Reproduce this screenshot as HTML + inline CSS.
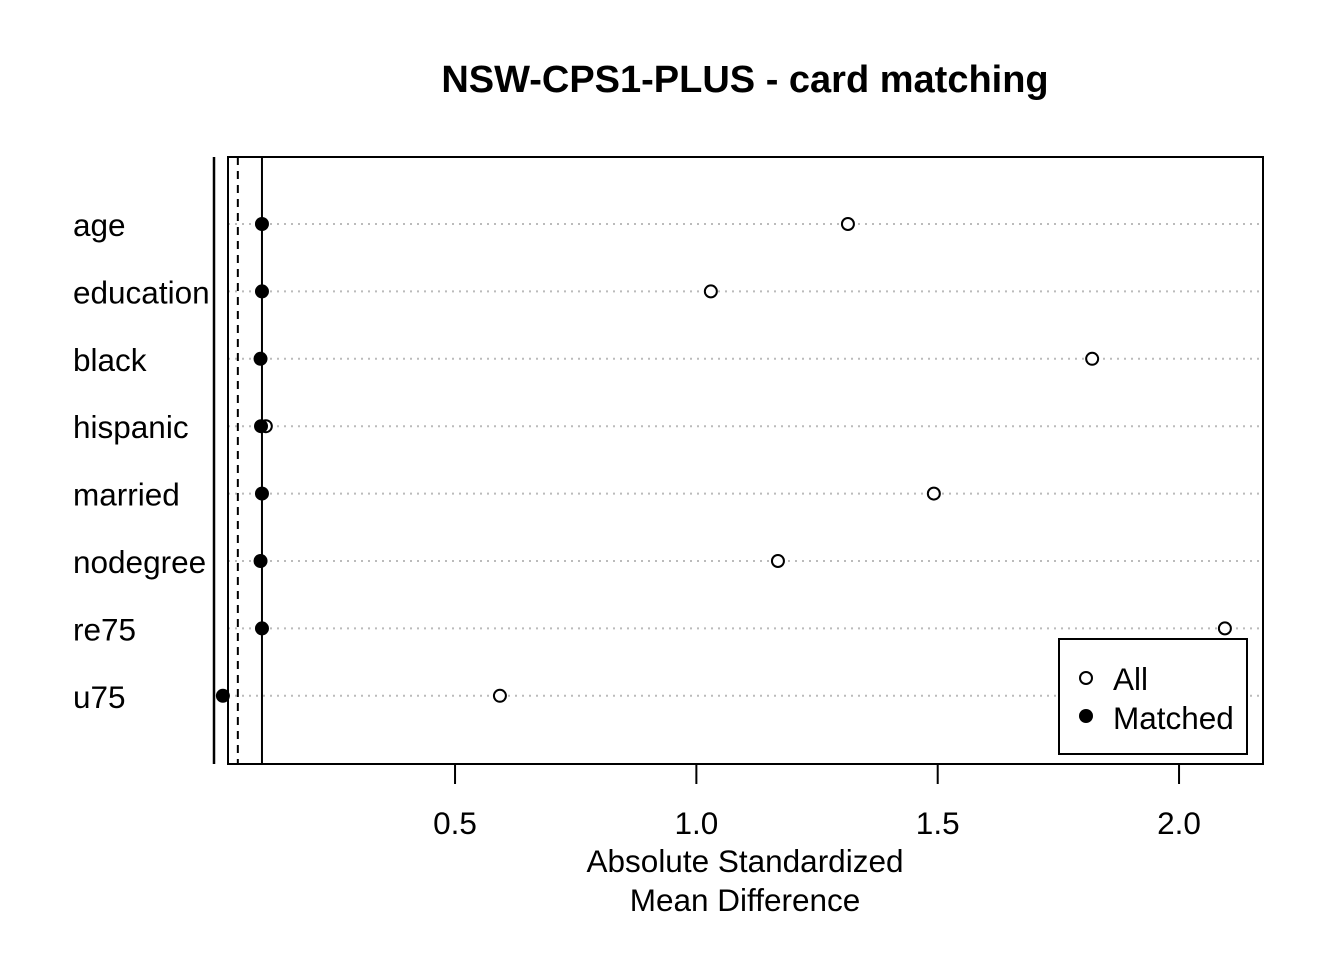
<!DOCTYPE html>
<html><head><meta charset="utf-8"><style>
body{margin:0;background:#fff}
svg{display:block;font-family:"Liberation Sans",Arial,sans-serif}
</style></head><body>
<svg id="chart" width="1344" height="960" viewBox="0 0 1344 960">
<text x="745" y="92" text-anchor="middle" font-size="38" font-weight="bold">NSW-CPS1-PLUS - card matching</text>
<g id="grid"></g>
<line x1="214" y1="157" x2="214" y2="764" stroke="#000" stroke-width="2.5"/>
<rect x="228" y="157" width="1035" height="607" fill="none" stroke="#000" stroke-width="2"/>
<g id="refs"></g>
<g id="axis"></g>
<g id="pts"></g>
<text x="745" y="872" text-anchor="middle" font-size="31.5">Absolute Standardized</text>
<text x="745" y="911" text-anchor="middle" font-size="31.5">Mean Difference</text>
<g>
<rect x="1059" y="639" width="188" height="115" fill="#fff" stroke="#000" stroke-width="2"/>
<circle cx="1086" cy="678" r="6" fill="#fff" stroke="#000" stroke-width="2"/>
<text x="1113" y="690" font-size="31.5">All</text>
<circle cx="1086" cy="716" r="7" fill="#000"/>
<text x="1113" y="729" font-size="31.5">Matched</text>
</g>
</svg>
<script>
const variables=["age","education","black","hispanic","married","nodegree","re75","u75"];
const allValues=[1.314,1.030,1.820,0.108,1.492,1.169,2.095,0.593];
const matchedValues=[0.100,0.100,0.097,0.098,0.100,0.097,0.100,0.019];
const tickValues=[0.5,1.0,1.5,2.0];
const tickLabels=["0.5","1.0","1.5","2.0"];
const thresholds=[0.05,0.1];
const NS="http://www.w3.org/2000/svg";
function xs(v){return 213.7+v*482.67;}
function ys(i){return 224+i*67.4;}
function mk(t,a,p){const e=document.createElementNS(NS,t);for(const k in a)e.setAttribute(k,a[k]);p.appendChild(e);return e;}
const grid=document.getElementById('grid'),refs=document.getElementById('refs'),axis=document.getElementById('axis'),pts=document.getElementById('pts');
variables.forEach((v,i)=>{
 const l=mk('line',{x1:228,x2:1263,y1:ys(i),y2:ys(i),stroke:'#bbb','stroke-width':2,'stroke-dasharray':'2,5'},grid);
 
 
 const t=mk('text',{x:73,y:ys(i)+12,'font-size':31.5},grid);t.textContent=v;
 
 
});
thresholds.forEach((th,j)=>{
 const l=mk('line',{x1:xs(th),x2:xs(th),y1:157,y2:764,stroke:'#000','stroke-width':2,'stroke-dasharray':j==0?'8,6':'none'},refs);
 
 
});
tickValues.forEach((v,i)=>{
 const l=mk('line',{x1:xs(v),x2:xs(v),y1:764,y2:784,stroke:'#000','stroke-width':2},axis);
 
 
 const t=mk('text',{x:xs(v),y:834,'font-size':31.5,'text-anchor':'middle'},axis);t.textContent=tickLabels[i];
 
 
});
variables.forEach((v,i)=>{
 const a=mk('circle',{cx:xs(allValues[i]),cy:ys(i),r:6,fill:'#fff',stroke:'#000','stroke-width':2},pts);
 
 
 const m=mk('circle',{cx:xs(matchedValues[i]),cy:ys(i),r:7,fill:'#000'},pts);
 
 
});
</script>
</body></html>
